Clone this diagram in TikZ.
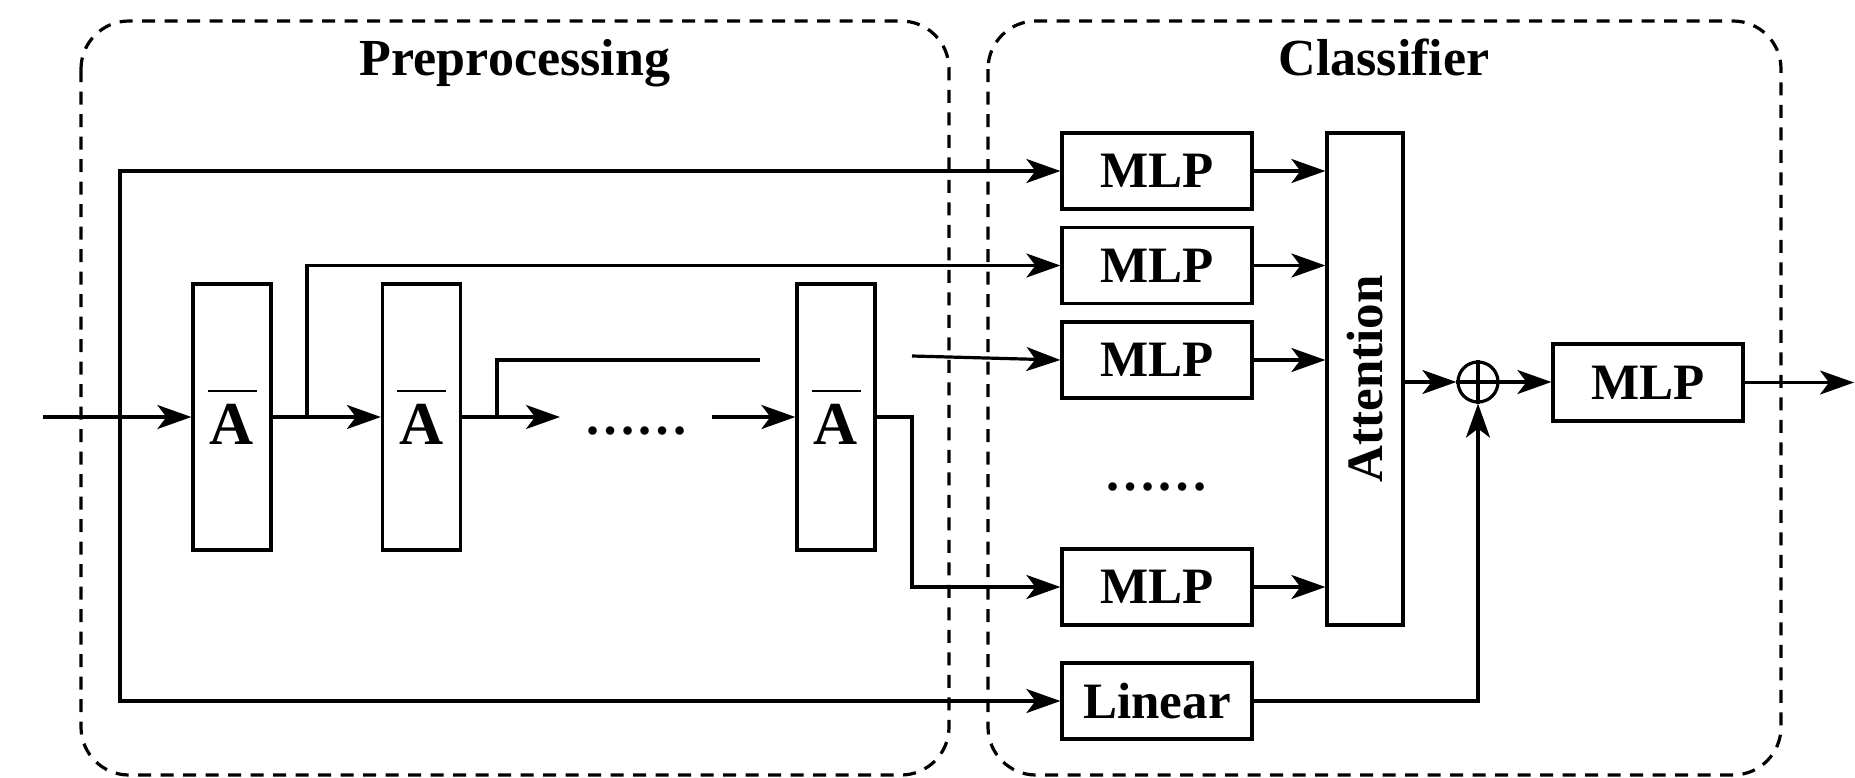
\documentclass[tikz,border=0pt]{standalone}
\usepackage{fontspec}
\usepackage{graphicx}
\setmainfont{Liberation Serif}
\usetikzlibrary{arrows.meta}
\newcommand\AbarSym{\vbox{\hrule height 2pt width 49pt\vskip 12pt\hbox to 49pt{\hss A\hss}}}
\begin{document}
\begin{tikzpicture}[x=1pt,y=-1pt,
  line width=3.2pt,
  arr/.style={-{Stealth[length=34pt,width=24pt,inset=9pt]}},
  blk/.style={draw,rectangle,inner sep=0pt,font=\fontsize{51}{60}\selectfont\bfseries},
  mlp/.style={blk,minimum width=190pt,minimum height=76pt},
  abox/.style={blk,minimum width=78pt,minimum height=266pt,font=\fontsize{61}{70}\selectfont\bfseries},
  group/.style={draw,dash pattern=on 13pt off 9.5pt,rounded corners=48pt},
  title/.style={anchor=base,font=\fontsize{52}{60}\selectfont\bfseries},
  dots/.style={font=\fontsize{52}{60}\selectfont\bfseries,inner sep=0pt}]
\useasboundingbox (0,0) rectangle (1855,777);

% groups
\draw[group] (81,21) rectangle (949,775);
\draw[group] (988,21) rectangle (1781,775);
\node[title] (tpre) at (515,75) {Preprocessing};
\node[title] (tcls) at (1384,75) {Classifier};

% preprocessing blocks
\node[abox] (A1) at (232,417) {\AbarSym};
\node[abox] (A2) at (421.5,417) {\AbarSym};
\node[abox] (A3) at (836,417) {\AbarSym};
\node[dots] (pdots) at (636,431) {……};

% classifier blocks
\node[mlp] (M1) at (1157,171) {MLP};
\node[mlp] (M2) at (1157,265.5) {MLP};
\node[mlp] (M3) at (1157,360) {MLP};
\node[mlp] (M4) at (1157,587) {MLP};
\node[mlp] (Lin) at (1157,701) {Linear};
\node[dots] (cdots) at (1156,487) {……};
\node[blk,minimum width=76pt,minimum height=492pt] (Att) at (1365,379) {\rotatebox{90}{Attention}};
\node[draw,circle,minimum size=40pt,inner sep=0pt] (plus) at (1478,382) {};
\draw (plus.north) -- (plus.south);
\draw (plus.west) -- (plus.east);
\node[blk,minimum width=190pt,minimum height=77pt] (M5) at (1648,382.5) {MLP};

% coordinates
\coordinate (in) at (43,417);
\coordinate (out) at (1854,382.5);
\coordinate (tl) at (120,171);
\coordinate (bl) at (120,701);
\coordinate (j1) at (307,417);
\coordinate (j2) at (497,417);
\coordinate (e2) at (760,360);
\coordinate (d1) at (560,417);
\coordinate (d2) at (712,417);
\coordinate (s3) at (912,356);
\coordinate (k3) at (912,417);

% connectors
\draw[arr] (in) -- (A1.west);
\draw[{Stealth[length=34pt,width=24pt,inset=9pt]}-{Stealth[length=34pt,width=24pt,inset=9pt]}] (M1.west) -- (tl) -- (bl) -- (Lin.west);
\draw[arr] (A1.east) -- (A2.west);
\draw[arr] (j1) |- (M2.west);
\draw (j2) |- (e2);
\draw[arr] (A2.east) -- (d1);
\draw[arr] (d2) -- (A3.west);
\draw[arr] (s3) -- (M3.west);
\draw[arr] (A3.east) -- (k3) |- (M4.west);

\draw[arr] (M1.east) -- (M1.east -| Att.west);
\draw[arr] (M2.east) -- (M2.east -| Att.west);
\draw[arr] (M3.east) -- (M3.east -| Att.west);
\draw[arr] (M4.east) -- (M4.east -| Att.west);
\draw[arr] (Att.east |- plus) -- (plus.west);
\draw[arr] (plus.east) -- (M5.west |- plus);
\draw[arr] (M5.east) -- (out);
\draw[arr] (Lin.east) -| (plus.south);
\end{tikzpicture}
\end{document}
